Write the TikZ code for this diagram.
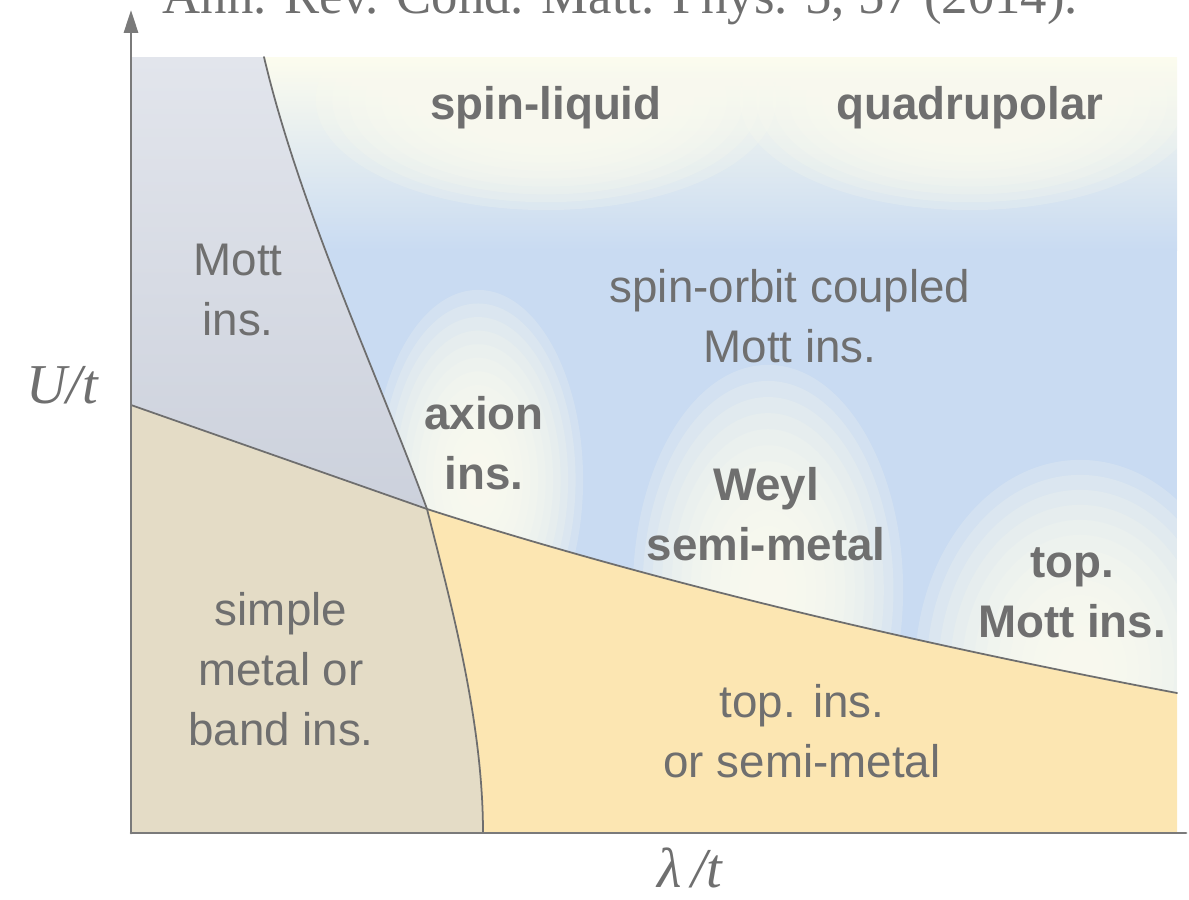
\documentclass[tikz,border=0pt]{standalone}
\usepackage{fontspec}
\setmainfont{Liberation Serif}
\newfontfamily\labelsans{Liberation Sans}
\usetikzlibrary{arrows.meta}
\definecolor{axisgray}{HTML}{7A7A7A}
\definecolor{linegray}{HTML}{6E6E6E}
\definecolor{textgray}{HTML}{6F6F6F}
\definecolor{mottblue}{HTML}{CCD1DC}
\definecolor{mottlight}{HTML}{E2E5EC}
\definecolor{metalbeige}{HTML}{E4DCC6}
\definecolor{topyellow}{HTML}{FCE6B2}
\definecolor{socblue}{HTML}{C9DBF2}
\definecolor{glow}{HTML}{FCFCEE}
\newcommand{\glowat}[4]{%
  \foreach \k in {1,...,14}{\fill[glowring] (#1,#2) ellipse [x radius={#3cm*\k/14}, y radius={#4cm*\k/14}];}}
\tikzset{
  every picture/.style={line join=round, line cap=round, >=Stealth},
  phase/.style={font=\labelsans\fontsize{13}{17}\selectfont, text=textgray, align=center, anchor=base, inner sep=0pt},
  phasebold/.style={phase, font=\labelsans\bfseries\fontsize{13}{16.8}\selectfont},
  boundary/.style={draw=linegray, line width=0.5pt},
  axisline/.style={draw=axisgray, line width=0.75pt},
  axislabel/.style={font=\itshape\fontsize{16}{18}\selectfont, text=textgray, anchor=base, inner sep=0pt},
  glowring/.style={fill=glow, fill opacity=0.2},
}

\begin{document}
\begin{tikzpicture}[x=0.01cm,y=-0.01cm]
\useasboundingbox (0,0) rectangle (1189,899);
\coordinate (tl) at (131,57);
\coordinate (tr) at (1177,57);
\coordinate (br) at (1177,833);
\coordinate (bl) at (131,833);
\coordinate (uleft) at (131,405);
\coordinate (mtop) at (264,57);
\coordinate (cross) at (427,509);
\coordinate (mbot) at (483,833);
\coordinate (uright) at (1177,693);
\coordinate (ytip) at (131,10);
\coordinate (xend) at (1186,833);
% phase regions
\shade[top color=mottlight, bottom color=mottblue] (tl) -- (mtop) .. controls (300,210) and (380,380) .. (cross) -- (uleft) -- cycle;
\fill[metalbeige] (uleft) -- (cross) .. controls (450,600) and (483,720) .. (mbot) -- (bl) -- cycle;
\fill[topyellow] (cross) .. controls (680,590) and (950,650) .. (uright) -- (br) -- (mbot) .. controls (483,720) and (450,600) .. (cross) -- cycle;
\begin{scope}
  \clip (mtop) -- (tr) -- (uright) .. controls (950,650) and (680,590) .. (cross) .. controls (380,380) and (300,210) .. (mtop) -- cycle;
  \fill[socblue] (tl) rectangle (br);
  \shade[top color=glow, bottom color=socblue] (tl) rectangle (1177,250);
  \glowat{546}{100}{2.3}{1.1}
  \glowat{970}{100}{2.3}{1.1}
  \glowat{478}{480}{1.05}{1.9}
  \glowat{768}{590}{1.35}{2.25}
  \glowat{1080}{670}{1.65}{2.1}
\end{scope}
% boundaries
\draw[boundary] (mtop) .. controls (300,210) and (380,380) .. (cross) .. controls (450,600) and (483,720) .. (mbot);
\draw[boundary] (uleft) -- (cross) .. controls (680,590) and (950,650) .. (uright);
% axes
\draw[axisline, -{Triangle[length=6.5pt,width=4pt]}] (bl) -- (ytip);
\draw[axisline] (bl) -- (xend);
% labels
\node[phase] (mottins) at (238,335) {Mott\\ins.};
\node[phase] (socmott) at (790,362) {spin-orbit coupled\\Mott ins.};
\node[phase] (metal) at (281,745) {simple\\metal or\\band ins.};
\node[phase] (topins) at (802,777) {top. ins.\\or semi-metal};
\node[phasebold] (spinliq) at (546,119) {spin-liquid};
\node[phasebold] (quadru) at (970,119) {quadrupolar};
\node[phasebold] (axion) at (484,489) {axion\\ins.};
\node[phasebold] (weyl) at (766,560) {Weyl\\semi-metal};
\node[phasebold] (topmott) at (1072,637) {top.\\Mott ins.};
\node[axislabel] (ulabel) at (62,403) {U/t};
\node[axislabel] (lamlabel) at (690,887) {λ\,/t};
\node[font=\fontsize{15}{18}\selectfont, text=textgray, anchor=base west, inner sep=0pt] (cite) at (162,13) {Ann. Rev. Cond. Matt. Phys. 5, 57 (2014).};
\end{tikzpicture}
\end{document}
